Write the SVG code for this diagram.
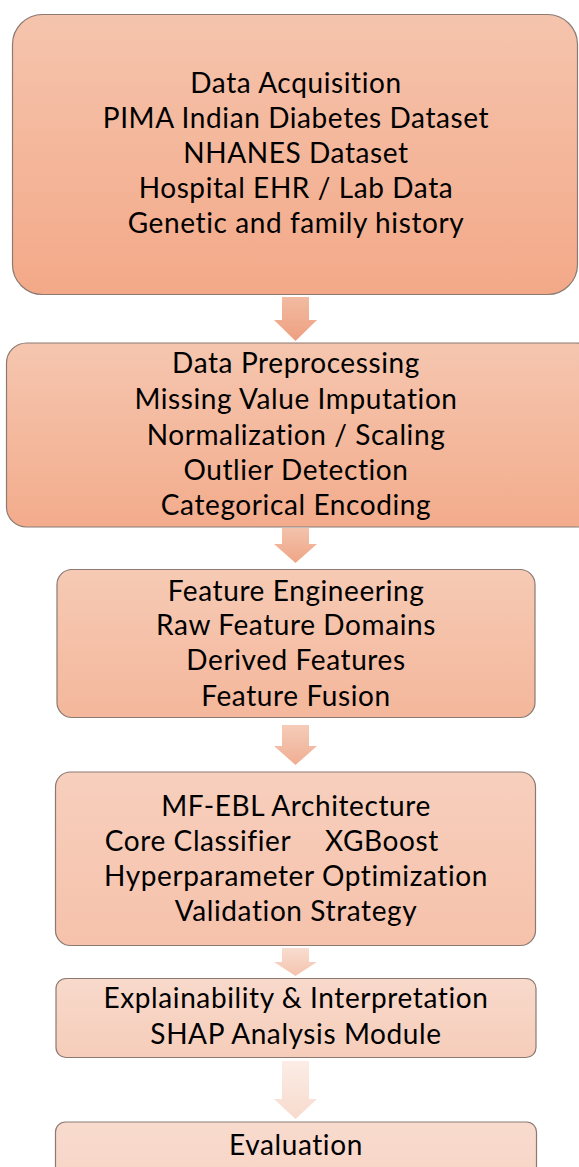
<svg xmlns="http://www.w3.org/2000/svg" width="579" height="1167" viewBox="0 0 579 1167">
<style>
.box{stroke:#8a7a72;stroke-width:1.2}
.t{font-family:Lato,"Open Sans","Liberation Sans",sans-serif;font-size:28px;letter-spacing:0.6px;fill:#000;text-anchor:middle}
</style>
<defs>
<linearGradient id="g1" x1="0" y1="0" x2="0" y2="1"><stop offset="0" stop-color="#F5C4AD"/><stop offset="1" stop-color="#F3A988"/></linearGradient>
<linearGradient id="g2" x1="0" y1="0" x2="0" y2="1"><stop offset="0" stop-color="#F5C6AF"/><stop offset="1" stop-color="#F3AC8C"/></linearGradient>
<linearGradient id="g3" x1="0" y1="0" x2="0" y2="1"><stop offset="0" stop-color="#F6CAB4"/><stop offset="1" stop-color="#F4B79B"/></linearGradient>
<linearGradient id="g4" x1="0" y1="0" x2="0" y2="1"><stop offset="0" stop-color="#F7CFBD"/><stop offset="1" stop-color="#F6C2AB"/></linearGradient>
<linearGradient id="g5" x1="0" y1="0" x2="0" y2="1"><stop offset="0" stop-color="#F8D9CB"/><stop offset="1" stop-color="#F6CDBA"/></linearGradient>
<linearGradient id="g6" x1="0" y1="0" x2="0" y2="1"><stop offset="0" stop-color="#F8DBCE"/><stop offset="1" stop-color="#F7D3C3"/></linearGradient>
<linearGradient id="a1" x1="0" y1="0" x2="0" y2="1"><stop offset="0" stop-color="#F2BBA2"/><stop offset="1" stop-color="#EE9F80"/></linearGradient>
<linearGradient id="a2" x1="0" y1="0" x2="0" y2="1"><stop offset="0" stop-color="#F3C2AB"/><stop offset="1" stop-color="#EFA586"/></linearGradient>
<linearGradient id="a3" x1="0" y1="0" x2="0" y2="1"><stop offset="0" stop-color="#F5CCB9"/><stop offset="1" stop-color="#F0AE92"/></linearGradient>
<linearGradient id="a4" x1="0" y1="0" x2="0" y2="1"><stop offset="0" stop-color="#F8DDD0"/><stop offset="1" stop-color="#F4C3AE"/></linearGradient>
<linearGradient id="a5" x1="0" y1="0" x2="0" y2="1"><stop offset="0" stop-color="#FBEDE6"/><stop offset="1" stop-color="#F8DACD"/></linearGradient>
</defs>
<g id="connectors">
<path d="M282,297 H309 V320 H317 L295.5,341 L274,320 H282 Z" fill="url(#a1)"/>
<path d="M282,528 H309 V544 H317 L295.5,563 L274,544 H282 Z" fill="url(#a2)"/>
<path d="M282,725 H309 V746 H317 L295.5,765 L274,746 H282 Z" fill="url(#a3)"/>
<path d="M282,948 H309 V962 H317 L295.5,976 L274,962 H282 Z" fill="url(#a4)"/>
<path d="M282,1061 H309 V1099 H317 L295.5,1119 L274,1099 H282 Z" fill="url(#a5)"/>
</g>
<g id="n1">
<rect class="box" x="12.5" y="14.5" width="565" height="280" rx="30" fill="url(#g1)"/>
<text class="t" x="296" y="93">Data Acquisition</text>
<text class="t" x="296" y="128">PIMA Indian Diabetes Dataset</text>
<text class="t" x="296" y="163">NHANES Dataset</text>
<text class="t" x="296" y="198">Hospital EHR / Lab Data</text>
<text class="t" x="296" y="233">Genetic and family history</text>
</g>
<g id="n2">
<rect class="box" x="6.5" y="343" width="590" height="184" rx="20" fill="url(#g2)"/>
<text class="t" x="296" y="373">Data Preprocessing</text>
<text class="t" x="296" y="409">Missing Value Imputation</text>
<text class="t" x="296" y="445">Normalization / Scaling</text>
<text class="t" x="296" y="480">Outlier Detection</text>
<text class="t" x="296" y="515">Categorical Encoding</text>
</g>
<g id="n3">
<rect class="box" x="57" y="569.5" width="478" height="148" rx="15" fill="url(#g3)"/>
<text class="t" x="296" y="601">Feature Engineering</text>
<text class="t" x="296" y="635">Raw Feature Domains</text>
<text class="t" x="296" y="670">Derived Features</text>
<text class="t" x="296" y="706">Feature Fusion</text>
</g>
<g id="n4">
<rect class="box" x="55.5" y="772" width="480" height="173.5" rx="15" fill="url(#g4)"/>
<text class="t" x="296" y="816">MF-EBL Architecture</text>
<text class="t" y="851"><tspan x="198">Core Classifier</tspan><tspan x="382">XGBoost</tspan></text>
<text class="t" x="296" y="886">Hyperparameter Optimization</text>
<text class="t" x="296" y="921">Validation Strategy</text>
</g>
<g id="n5">
<rect class="box" x="56" y="978.5" width="480" height="79" rx="10" fill="url(#g5)"/>
<text class="t" x="296" y="1008">Explainability &amp; Interpretation</text>
<text class="t" x="296" y="1044">SHAP Analysis Module</text>
</g>
<g id="n6">
<rect class="box" x="55.5" y="1122" width="481" height="80" rx="10" fill="url(#g6)"/>
<text class="t" x="296" y="1155">Evaluation</text>
</g>
</svg>
